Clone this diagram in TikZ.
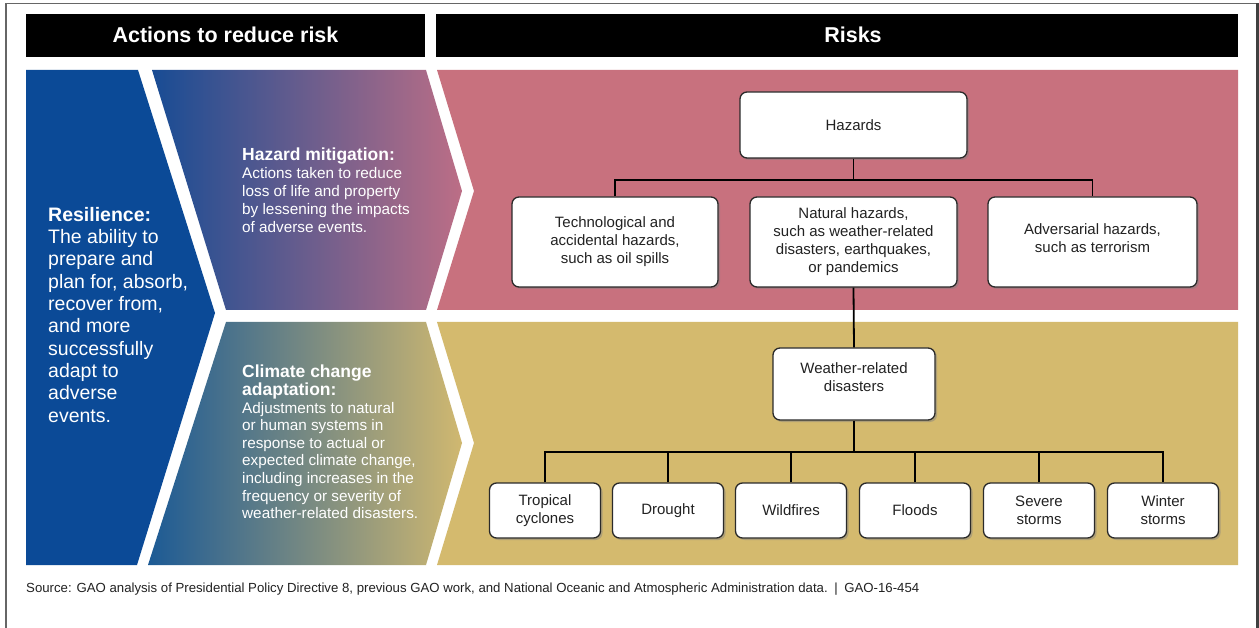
\documentclass[tikz,border=0pt]{standalone}
\usepackage{fontspec}
\setmainfont{Liberation Sans}
\usetikzlibrary{shadows}
\definecolor{resblue}{HTML}{0B4A97}
\definecolor{mitblue}{HTML}{184C94}
\definecolor{mitpink}{HTML}{BC6E86}
\definecolor{adablue}{HTML}{1C5A95}
\definecolor{adatan}{HTML}{D0B870}
\definecolor{riskpink}{HTML}{C8717E}
\definecolor{risktan}{HTML}{D4BA6E}
\definecolor{boxline}{HTML}{2A2A2A}
\definecolor{boxtext}{HTML}{222222}
\tikzset{
  hbox/.style={draw=boxline, line width=1.3pt, fill=white, rounded corners=7pt,
    drop shadow={opacity=0.45, shadow xshift=2pt, shadow yshift=-2pt},
    align=center, font=\fontsize{15}{18}\selectfont, text=boxtext, inner sep=0pt},
  conn/.style={draw=black, line width=1.8pt},
  headtxt/.style={text=white, font=\bfseries\fontsize{21.5}{24}\selectfont},
  chevtxt/.style={text=white, align=left, anchor=north west, inner sep=0pt},
}
\begin{document}
\begin{tikzpicture}[x=1pt,y=-1pt]
\useasboundingbox (0,0) rectangle (1259,628);
\fill[white] (0,0) rectangle (1259,628);
% frame
\draw[draw=black!60, line width=1.2pt] (6,628) -- (6,3.5) -- (1257.5,3.5);
\draw[draw=black!75, line width=2.5pt] (1257.5,3) -- (1257.5,628);
% headers
\fill[black] (26,14) rectangle (425,57);
\fill[black] (436,14) rectangle (1238,57);
\node[headtxt] (hA) at (225.5,35) {Actions to reduce risk};
\node[headtxt] (hR) at (853,35) {Risks};
% resilience
\fill[resblue] (26,70) -- (138,70) -- (215,313) -- (137,565) -- (26,565) -- cycle;
% hazard mitigation chevron
\shade[left color=mitblue, right color=mitpink] (152,70) -- (426,70) -- (462,191) -- (426,310) -- (226,310) -- cycle;
% climate adaptation chevron
\shade[left color=adablue, right color=adatan] (226,322) -- (426,322) -- (462,443) -- (426,565) -- (148,565) -- cycle;
% risk panels
\fill[riskpink] (437,70) -- (1238,70) -- (1238,310) -- (437,310) -- (474,191) -- cycle;
\fill[risktan] (437,322) -- (1238,322) -- (1238,565) -- (437,565) -- (474,443) -- cycle;
% left texts
\node[chevtxt, font=\fontsize{19.5}{22.3}\selectfont] (res) at (48,207)
  {\textbf{Resilience:}\\The ability to\\prepare and\\plan for, absorb,\\recover from,\\and more\\successfully\\adapt to\\adverse\\events.};
\node[chevtxt, font=\fontsize{15.3}{18}\selectfont] (mit) at (242,148)
  {{\bfseries\fontsize{17.5}{18}\selectfont Hazard mitigation:}\\Actions taken to reduce\\loss of life and property\\by lessening the impacts\\of adverse events.};
\node[chevtxt, font=\fontsize{15.3}{17.6}\selectfont] (ada) at (242,365)
  {{\bfseries\fontsize{17.5}{18}\selectfont Climate change}\\{\bfseries\fontsize{17.5}{18}\selectfont adaptation:}\\Adjustments to natural\\or human systems in\\response to actual or\\expected climate change,\\including increases in the\\frequency or severity of\\weather-related disasters.};
% hazard tree
\node[hbox, minimum width=227pt, minimum height=66pt] (haz) at (853.5,125) {Hazards};
\node[hbox, minimum width=206pt, minimum height=90pt] (tech) at (615,242) {Technological and\\accidental hazards,\\such as oil spills};
\node[hbox, minimum width=207pt, minimum height=90pt] (nat) at (853.5,242) {Natural hazards,\\such as weather-related\\disasters, earthquakes,\\or pandemics};
\node[hbox, minimum width=209pt, minimum height=90pt] (adv) at (1092.5,242) {Adversarial hazards,\\such as terrorism\\[-10pt]\mbox{}};
\coordinate (hbar) at (853.5,180);
\draw[conn] (haz.south) -- (hbar);
\draw[conn] (tech.north) |- (hbar) -| (adv.north);
% weather tree
\node[hbox, minimum width=162pt, minimum height=72pt] (wrd) at (854,384) {Weather-related\\disasters\\[-4pt]\mbox{}};
\draw[conn] (nat.south) -- (wrd.north);
\coordinate (wbar) at (854,452);
\draw[conn] (wrd.south) -- (wbar);
\foreach \n/\x/\t in {tc/545/{Tropical\\cyclones}, dr/668/{Drought}, wf/791/{Wildfires}, fl/915/{Floods}, ss/1039/{Severe\\storms}, ws/1163/{Winter\\storms}}{
  \node[hbox, minimum width=111pt, minimum height=55pt] (\n) at (\x,510.5) {\t};
}
\draw[conn] (tc.north) |- (wbar) -| (ws.north);
\foreach \n in {dr,wf,fl,ss}{\draw[conn] (\n.north) -- (\n.north |- wbar);}
% source
\node[anchor=west, inner sep=0pt, text=boxtext, font=\fontsize{13.2}{15}\selectfont] (src) at (26,589)
  {Source: GAO analysis of Presidential Policy Directive 8, previous GAO work, and National Oceanic and Atmospheric Administration data.\enspace|\enspace GAO-16-454};
\end{tikzpicture}
\end{document}
